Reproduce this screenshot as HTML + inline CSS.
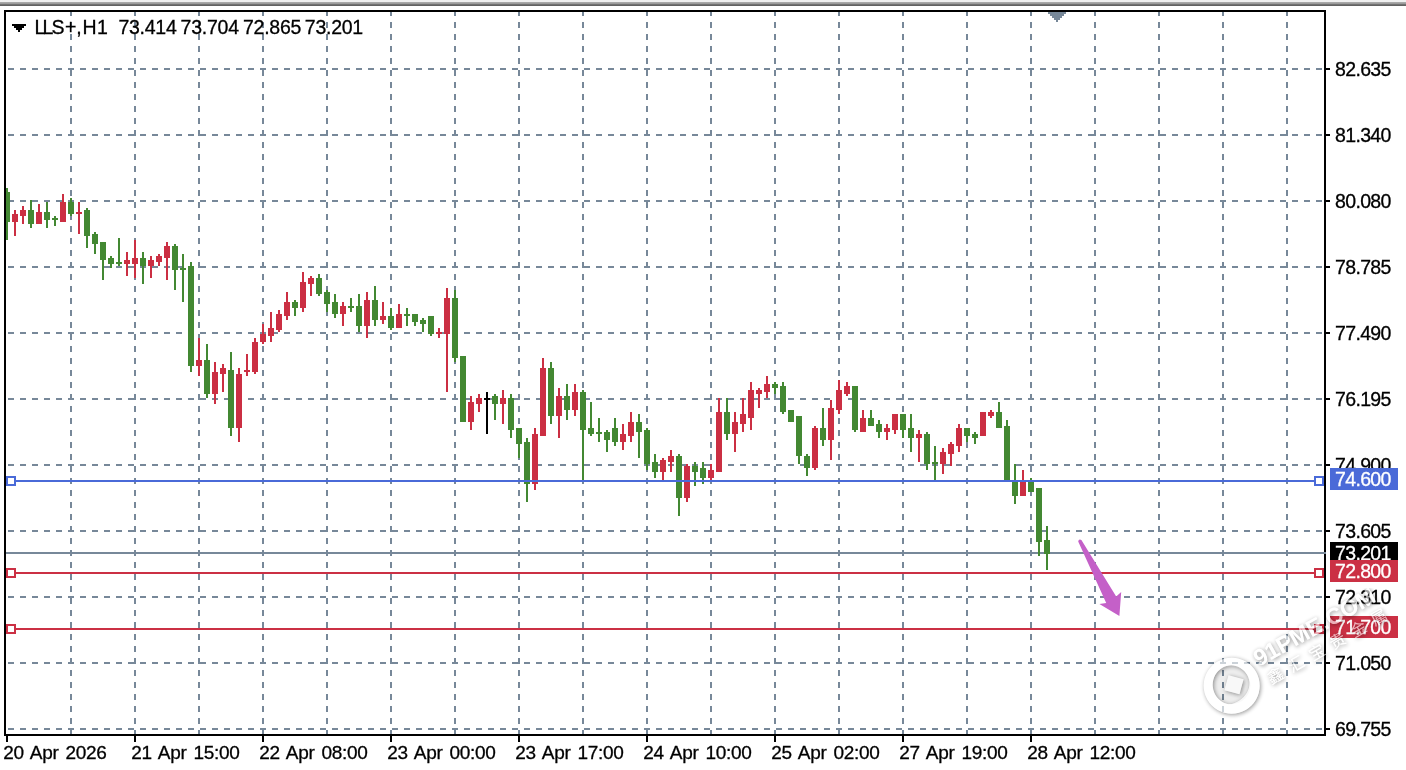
<!DOCTYPE html>
<html lang="en"><head><meta charset="utf-8"><title>LLS+,H1</title>
<style>
html,body{margin:0;padding:0;background:#fff;}
body{width:1406px;height:770px;position:relative;overflow:hidden;font-family:"Liberation Sans","Noto Sans CJK SC",sans-serif;color:#000;}
.t{position:absolute;white-space:nowrap;font-size:19.5px;line-height:20px;height:20px;-webkit-text-stroke:0.3px currentColor;}
.p{left:1335px;letter-spacing:-0.65px;}
.bx{position:absolute;left:1330px;width:68px;height:22px;color:#fff;font-size:19.5px;line-height:20px;letter-spacing:-0.65px;white-space:nowrap;-webkit-text-stroke:0.3px currentColor;}
.bx span{position:absolute;left:5px;top:1px;}
.d{top:743.3px;font-size:19px;letter-spacing:-0.3px;word-spacing:2px;}
.h{top:17px;letter-spacing:-0.25px;}
#wm{position:absolute;left:1196px;top:588px;width:210px;height:140px;pointer-events:none;}
</style></head><body>
<svg width="1406" height="770" viewBox="0 0 1406 770" shape-rendering="crispEdges" style="position:absolute;left:0;top:0">
<rect x="0" y="0" width="1406" height="2" fill="#f0f0f0"/>
<rect x="0" y="2" width="1406" height="1" fill="#a8a8a8"/>
<rect x="0" y="3" width="1406" height="1" fill="#9c9c9c"/>
<rect x="0" y="4" width="1406" height="1" fill="#727272"/>
<rect x="0" y="5" width="1406" height="1" fill="#626262"/>
<g stroke="#778899" stroke-width="2" fill="none">
<line x1="8" y1="69" x2="1324" y2="69" stroke-dasharray="6 6"/>
<line x1="8" y1="135" x2="1324" y2="135" stroke-dasharray="6 6"/>
<line x1="8" y1="201" x2="1324" y2="201" stroke-dasharray="6 6"/>
<line x1="8" y1="267" x2="1324" y2="267" stroke-dasharray="6 6"/>
<line x1="8" y1="333" x2="1324" y2="333" stroke-dasharray="6 6"/>
<line x1="8" y1="399" x2="1324" y2="399" stroke-dasharray="6 6"/>
<line x1="8" y1="465" x2="1324" y2="465" stroke-dasharray="6 6"/>
<line x1="8" y1="531" x2="1324" y2="531" stroke-dasharray="6 6"/>
<line x1="8" y1="597" x2="1324" y2="597" stroke-dasharray="6 6"/>
<line x1="8" y1="663" x2="1324" y2="663" stroke-dasharray="6 6"/>
<line x1="8" y1="729" x2="1324" y2="729" stroke-dasharray="6 6"/>
<line x1="71" y1="10" x2="71" y2="736" stroke-dasharray="6 6"/>
<line x1="135" y1="10" x2="135" y2="736" stroke-dasharray="6 6"/>
<line x1="199" y1="10" x2="199" y2="736" stroke-dasharray="6 6"/>
<line x1="263" y1="10" x2="263" y2="736" stroke-dasharray="6 6"/>
<line x1="327" y1="10" x2="327" y2="736" stroke-dasharray="6 6"/>
<line x1="391" y1="10" x2="391" y2="736" stroke-dasharray="6 6"/>
<line x1="455" y1="10" x2="455" y2="736" stroke-dasharray="6 6"/>
<line x1="519" y1="10" x2="519" y2="736" stroke-dasharray="6 6"/>
<line x1="583" y1="10" x2="583" y2="736" stroke-dasharray="6 6"/>
<line x1="647" y1="10" x2="647" y2="736" stroke-dasharray="6 6"/>
<line x1="711" y1="10" x2="711" y2="736" stroke-dasharray="6 6"/>
<line x1="775" y1="10" x2="775" y2="736" stroke-dasharray="6 6"/>
<line x1="839" y1="10" x2="839" y2="736" stroke-dasharray="6 6"/>
<line x1="903" y1="10" x2="903" y2="736" stroke-dasharray="6 6"/>
<line x1="967" y1="10" x2="967" y2="736" stroke-dasharray="6 6"/>
<line x1="1031" y1="10" x2="1031" y2="736" stroke-dasharray="6 6"/>
<line x1="1095" y1="10" x2="1095" y2="736" stroke-dasharray="6 6"/>
<line x1="1159" y1="10" x2="1159" y2="736" stroke-dasharray="6 6"/>
<line x1="1223" y1="10" x2="1223" y2="736" stroke-dasharray="6 6"/>
<line x1="1287" y1="10" x2="1287" y2="736" stroke-dasharray="6 6"/>
</g>
<path d="M1048 12h18v2h-2v2h-2v2h-2v2h-2v2h-2v-2h-2v-2h-2v-2h-2v-2h-2z" fill="#778899"/>
<rect x="6" y="552" width="1320" height="2" fill="#778899"/>
<rect x="6" y="188" width="2" height="52" fill="#438832"/>
<rect x="4" y="192" width="6" height="30" fill="#438832"/>
<rect x="14" y="210" width="2" height="26" fill="#cb2f43"/>
<rect x="12" y="214" width="6" height="8" fill="#cb2f43"/>
<rect x="22" y="206" width="2" height="18" fill="#cb2f43"/>
<rect x="20" y="210" width="6" height="6" fill="#cb2f43"/>
<rect x="30" y="200" width="2" height="28" fill="#438832"/>
<rect x="28" y="210" width="6" height="14" fill="#438832"/>
<rect x="38" y="204" width="2" height="20" fill="#cb2f43"/>
<rect x="36" y="212" width="6" height="12" fill="#cb2f43"/>
<rect x="46" y="202" width="2" height="26" fill="#438832"/>
<rect x="44" y="212" width="6" height="8" fill="#438832"/>
<rect x="54" y="216" width="2" height="10" fill="#438832"/>
<rect x="52" y="218" width="6" height="2" fill="#438832"/>
<rect x="62" y="194" width="2" height="28" fill="#cb2f43"/>
<rect x="60" y="202" width="6" height="20" fill="#cb2f43"/>
<rect x="70" y="198" width="2" height="18" fill="#438832"/>
<rect x="68" y="202" width="6" height="12" fill="#438832"/>
<rect x="78" y="202" width="2" height="32" fill="#cb2f43"/>
<rect x="76" y="212" width="6" height="2" fill="#cb2f43"/>
<rect x="86" y="208" width="2" height="40" fill="#438832"/>
<rect x="84" y="210" width="6" height="26" fill="#438832"/>
<rect x="94" y="232" width="2" height="22" fill="#438832"/>
<rect x="92" y="234" width="6" height="10" fill="#438832"/>
<rect x="102" y="242" width="2" height="38" fill="#438832"/>
<rect x="100" y="242" width="6" height="18" fill="#438832"/>
<rect x="110" y="256" width="2" height="12" fill="#438832"/>
<rect x="108" y="258" width="6" height="6" fill="#438832"/>
<rect x="118" y="238" width="2" height="28" fill="#438832"/>
<rect x="116" y="262" width="6" height="2" fill="#438832"/>
<rect x="126" y="252" width="2" height="24" fill="#cb2f43"/>
<rect x="124" y="260" width="6" height="4" fill="#cb2f43"/>
<rect x="134" y="240" width="2" height="38" fill="#cb2f43"/>
<rect x="132" y="258" width="6" height="6" fill="#cb2f43"/>
<rect x="142" y="252" width="2" height="32" fill="#438832"/>
<rect x="140" y="258" width="6" height="8" fill="#438832"/>
<rect x="150" y="256" width="2" height="22" fill="#cb2f43"/>
<rect x="148" y="260" width="6" height="6" fill="#cb2f43"/>
<rect x="158" y="254" width="2" height="12" fill="#cb2f43"/>
<rect x="156" y="256" width="6" height="6" fill="#cb2f43"/>
<rect x="166" y="242" width="2" height="38" fill="#cb2f43"/>
<rect x="164" y="246" width="6" height="12" fill="#cb2f43"/>
<rect x="174" y="244" width="2" height="46" fill="#438832"/>
<rect x="172" y="246" width="6" height="24" fill="#438832"/>
<rect x="182" y="254" width="2" height="48" fill="#438832"/>
<rect x="180" y="268" width="6" height="2" fill="#438832"/>
<rect x="190" y="262" width="2" height="110" fill="#438832"/>
<rect x="188" y="266" width="6" height="100" fill="#438832"/>
<rect x="198" y="338" width="2" height="38" fill="#cb2f43"/>
<rect x="196" y="360" width="6" height="6" fill="#cb2f43"/>
<rect x="206" y="344" width="2" height="54" fill="#438832"/>
<rect x="204" y="360" width="6" height="34" fill="#438832"/>
<rect x="214" y="362" width="2" height="42" fill="#cb2f43"/>
<rect x="212" y="372" width="6" height="22" fill="#cb2f43"/>
<rect x="222" y="364" width="2" height="28" fill="#cb2f43"/>
<rect x="220" y="368" width="6" height="6" fill="#cb2f43"/>
<rect x="230" y="352" width="2" height="84" fill="#438832"/>
<rect x="228" y="370" width="6" height="58" fill="#438832"/>
<rect x="238" y="368" width="2" height="74" fill="#cb2f43"/>
<rect x="236" y="374" width="6" height="54" fill="#cb2f43"/>
<rect x="246" y="354" width="2" height="22" fill="#cb2f43"/>
<rect x="244" y="370" width="6" height="2" fill="#cb2f43"/>
<rect x="254" y="338" width="2" height="36" fill="#cb2f43"/>
<rect x="252" y="342" width="6" height="30" fill="#cb2f43"/>
<rect x="262" y="324" width="2" height="20" fill="#cb2f43"/>
<rect x="260" y="334" width="6" height="8" fill="#cb2f43"/>
<rect x="270" y="312" width="2" height="30" fill="#cb2f43"/>
<rect x="268" y="328" width="6" height="8" fill="#cb2f43"/>
<rect x="278" y="310" width="2" height="22" fill="#cb2f43"/>
<rect x="276" y="314" width="6" height="16" fill="#cb2f43"/>
<rect x="286" y="292" width="2" height="28" fill="#cb2f43"/>
<rect x="284" y="302" width="6" height="14" fill="#cb2f43"/>
<rect x="294" y="300" width="2" height="16" fill="#438832"/>
<rect x="292" y="302" width="6" height="6" fill="#438832"/>
<rect x="302" y="272" width="2" height="40" fill="#cb2f43"/>
<rect x="300" y="282" width="6" height="26" fill="#cb2f43"/>
<rect x="310" y="276" width="2" height="20" fill="#cb2f43"/>
<rect x="308" y="278" width="6" height="6" fill="#cb2f43"/>
<rect x="318" y="274" width="2" height="22" fill="#438832"/>
<rect x="316" y="278" width="6" height="16" fill="#438832"/>
<rect x="326" y="290" width="2" height="22" fill="#438832"/>
<rect x="324" y="292" width="6" height="12" fill="#438832"/>
<rect x="334" y="294" width="2" height="24" fill="#438832"/>
<rect x="332" y="302" width="6" height="12" fill="#438832"/>
<rect x="342" y="302" width="2" height="24" fill="#cb2f43"/>
<rect x="340" y="306" width="6" height="8" fill="#cb2f43"/>
<rect x="350" y="298" width="2" height="14" fill="#438832"/>
<rect x="348" y="306" width="6" height="2" fill="#438832"/>
<rect x="358" y="294" width="2" height="38" fill="#438832"/>
<rect x="356" y="306" width="6" height="20" fill="#438832"/>
<rect x="366" y="292" width="2" height="46" fill="#cb2f43"/>
<rect x="364" y="300" width="6" height="26" fill="#cb2f43"/>
<rect x="374" y="286" width="2" height="40" fill="#438832"/>
<rect x="372" y="300" width="6" height="20" fill="#438832"/>
<rect x="382" y="302" width="2" height="22" fill="#cb2f43"/>
<rect x="380" y="316" width="6" height="4" fill="#cb2f43"/>
<rect x="390" y="308" width="2" height="22" fill="#438832"/>
<rect x="388" y="316" width="6" height="12" fill="#438832"/>
<rect x="398" y="304" width="2" height="24" fill="#cb2f43"/>
<rect x="396" y="314" width="6" height="14" fill="#cb2f43"/>
<rect x="406" y="308" width="2" height="18" fill="#438832"/>
<rect x="404" y="314" width="6" height="2" fill="#438832"/>
<rect x="414" y="314" width="2" height="12" fill="#438832"/>
<rect x="412" y="314" width="6" height="8" fill="#438832"/>
<rect x="422" y="318" width="2" height="14" fill="#438832"/>
<rect x="420" y="320" width="6" height="4" fill="#438832"/>
<rect x="430" y="316" width="2" height="20" fill="#438832"/>
<rect x="428" y="316" width="6" height="18" fill="#438832"/>
<rect x="438" y="328" width="2" height="10" fill="#cb2f43"/>
<rect x="436" y="332" width="6" height="2" fill="#cb2f43"/>
<rect x="446" y="288" width="2" height="104" fill="#cb2f43"/>
<rect x="444" y="298" width="6" height="36" fill="#cb2f43"/>
<rect x="454" y="290" width="2" height="72" fill="#438832"/>
<rect x="452" y="298" width="6" height="60" fill="#438832"/>
<rect x="462" y="356" width="2" height="66" fill="#438832"/>
<rect x="460" y="356" width="6" height="66" fill="#438832"/>
<rect x="470" y="396" width="2" height="34" fill="#cb2f43"/>
<rect x="468" y="402" width="6" height="20" fill="#cb2f43"/>
<rect x="478" y="394" width="2" height="18" fill="#cb2f43"/>
<rect x="476" y="398" width="6" height="6" fill="#cb2f43"/>
<rect x="486" y="392" width="2" height="42" fill="#000000"/>
<rect x="484" y="398" width="6" height="2" fill="#000000"/>
<rect x="494" y="394" width="2" height="26" fill="#438832"/>
<rect x="492" y="396" width="6" height="8" fill="#438832"/>
<rect x="502" y="390" width="2" height="34" fill="#cb2f43"/>
<rect x="500" y="398" width="6" height="6" fill="#cb2f43"/>
<rect x="510" y="394" width="2" height="44" fill="#438832"/>
<rect x="508" y="398" width="6" height="32" fill="#438832"/>
<rect x="518" y="428" width="2" height="30" fill="#438832"/>
<rect x="516" y="428" width="6" height="16" fill="#438832"/>
<rect x="526" y="438" width="2" height="64" fill="#438832"/>
<rect x="524" y="442" width="6" height="42" fill="#438832"/>
<rect x="534" y="428" width="2" height="62" fill="#cb2f43"/>
<rect x="532" y="434" width="6" height="50" fill="#cb2f43"/>
<rect x="542" y="358" width="2" height="78" fill="#cb2f43"/>
<rect x="540" y="368" width="6" height="68" fill="#cb2f43"/>
<rect x="550" y="362" width="2" height="62" fill="#438832"/>
<rect x="548" y="368" width="6" height="48" fill="#438832"/>
<rect x="558" y="388" width="2" height="50" fill="#cb2f43"/>
<rect x="556" y="396" width="6" height="20" fill="#cb2f43"/>
<rect x="566" y="384" width="2" height="36" fill="#438832"/>
<rect x="564" y="396" width="6" height="14" fill="#438832"/>
<rect x="574" y="384" width="2" height="32" fill="#cb2f43"/>
<rect x="572" y="392" width="6" height="18" fill="#cb2f43"/>
<rect x="582" y="390" width="2" height="92" fill="#438832"/>
<rect x="580" y="392" width="6" height="38" fill="#438832"/>
<rect x="590" y="402" width="2" height="34" fill="#438832"/>
<rect x="588" y="428" width="6" height="6" fill="#438832"/>
<rect x="598" y="418" width="2" height="24" fill="#438832"/>
<rect x="596" y="432" width="6" height="2" fill="#438832"/>
<rect x="606" y="430" width="2" height="22" fill="#438832"/>
<rect x="604" y="432" width="6" height="8" fill="#438832"/>
<rect x="614" y="418" width="2" height="28" fill="#438832"/>
<rect x="612" y="428" width="6" height="14" fill="#438832"/>
<rect x="622" y="424" width="2" height="26" fill="#cb2f43"/>
<rect x="620" y="434" width="6" height="8" fill="#cb2f43"/>
<rect x="630" y="412" width="2" height="30" fill="#cb2f43"/>
<rect x="628" y="422" width="6" height="14" fill="#cb2f43"/>
<rect x="638" y="414" width="2" height="44" fill="#438832"/>
<rect x="636" y="422" width="6" height="10" fill="#438832"/>
<rect x="646" y="428" width="2" height="42" fill="#438832"/>
<rect x="644" y="430" width="6" height="34" fill="#438832"/>
<rect x="654" y="454" width="2" height="24" fill="#438832"/>
<rect x="652" y="462" width="6" height="10" fill="#438832"/>
<rect x="662" y="458" width="2" height="24" fill="#cb2f43"/>
<rect x="660" y="460" width="6" height="12" fill="#cb2f43"/>
<rect x="670" y="450" width="2" height="22" fill="#cb2f43"/>
<rect x="668" y="456" width="6" height="6" fill="#cb2f43"/>
<rect x="678" y="454" width="2" height="62" fill="#438832"/>
<rect x="676" y="456" width="6" height="42" fill="#438832"/>
<rect x="686" y="464" width="2" height="38" fill="#cb2f43"/>
<rect x="684" y="466" width="6" height="32" fill="#cb2f43"/>
<rect x="694" y="462" width="2" height="24" fill="#438832"/>
<rect x="692" y="466" width="6" height="6" fill="#438832"/>
<rect x="702" y="462" width="2" height="22" fill="#438832"/>
<rect x="700" y="468" width="6" height="10" fill="#438832"/>
<rect x="710" y="464" width="2" height="18" fill="#cb2f43"/>
<rect x="708" y="470" width="6" height="8" fill="#cb2f43"/>
<rect x="718" y="398" width="2" height="74" fill="#cb2f43"/>
<rect x="716" y="412" width="6" height="60" fill="#cb2f43"/>
<rect x="726" y="398" width="2" height="42" fill="#438832"/>
<rect x="724" y="412" width="6" height="22" fill="#438832"/>
<rect x="734" y="412" width="2" height="40" fill="#cb2f43"/>
<rect x="732" y="422" width="6" height="12" fill="#cb2f43"/>
<rect x="742" y="398" width="2" height="34" fill="#cb2f43"/>
<rect x="740" y="414" width="6" height="10" fill="#cb2f43"/>
<rect x="750" y="382" width="2" height="48" fill="#cb2f43"/>
<rect x="748" y="390" width="6" height="28" fill="#cb2f43"/>
<rect x="758" y="388" width="2" height="20" fill="#cb2f43"/>
<rect x="756" y="390" width="6" height="4" fill="#cb2f43"/>
<rect x="766" y="376" width="2" height="22" fill="#cb2f43"/>
<rect x="764" y="384" width="6" height="8" fill="#cb2f43"/>
<rect x="774" y="382" width="2" height="12" fill="#438832"/>
<rect x="772" y="384" width="6" height="4" fill="#438832"/>
<rect x="782" y="382" width="2" height="32" fill="#438832"/>
<rect x="780" y="386" width="6" height="26" fill="#438832"/>
<rect x="790" y="410" width="2" height="12" fill="#438832"/>
<rect x="788" y="410" width="6" height="12" fill="#438832"/>
<rect x="798" y="416" width="2" height="48" fill="#438832"/>
<rect x="796" y="416" width="6" height="40" fill="#438832"/>
<rect x="806" y="454" width="2" height="22" fill="#438832"/>
<rect x="804" y="456" width="6" height="12" fill="#438832"/>
<rect x="814" y="426" width="2" height="44" fill="#cb2f43"/>
<rect x="812" y="428" width="6" height="40" fill="#cb2f43"/>
<rect x="822" y="408" width="2" height="38" fill="#438832"/>
<rect x="820" y="428" width="6" height="12" fill="#438832"/>
<rect x="830" y="400" width="2" height="60" fill="#cb2f43"/>
<rect x="828" y="408" width="6" height="32" fill="#cb2f43"/>
<rect x="838" y="380" width="2" height="34" fill="#cb2f43"/>
<rect x="836" y="390" width="6" height="20" fill="#cb2f43"/>
<rect x="846" y="382" width="2" height="14" fill="#cb2f43"/>
<rect x="844" y="386" width="6" height="8" fill="#cb2f43"/>
<rect x="854" y="386" width="2" height="46" fill="#438832"/>
<rect x="852" y="386" width="6" height="44" fill="#438832"/>
<rect x="862" y="410" width="2" height="22" fill="#cb2f43"/>
<rect x="860" y="418" width="6" height="14" fill="#cb2f43"/>
<rect x="870" y="410" width="2" height="16" fill="#438832"/>
<rect x="868" y="418" width="6" height="8" fill="#438832"/>
<rect x="878" y="420" width="2" height="18" fill="#438832"/>
<rect x="876" y="424" width="6" height="8" fill="#438832"/>
<rect x="886" y="424" width="2" height="16" fill="#cb2f43"/>
<rect x="884" y="428" width="6" height="4" fill="#cb2f43"/>
<rect x="894" y="414" width="2" height="20" fill="#cb2f43"/>
<rect x="892" y="414" width="6" height="16" fill="#cb2f43"/>
<rect x="902" y="414" width="2" height="24" fill="#438832"/>
<rect x="900" y="414" width="6" height="16" fill="#438832"/>
<rect x="910" y="414" width="2" height="38" fill="#438832"/>
<rect x="908" y="428" width="6" height="10" fill="#438832"/>
<rect x="918" y="430" width="2" height="32" fill="#cb2f43"/>
<rect x="916" y="434" width="6" height="4" fill="#cb2f43"/>
<rect x="926" y="432" width="2" height="38" fill="#438832"/>
<rect x="924" y="434" width="6" height="30" fill="#438832"/>
<rect x="934" y="446" width="2" height="36" fill="#438832"/>
<rect x="932" y="462" width="6" height="2" fill="#438832"/>
<rect x="942" y="448" width="2" height="26" fill="#cb2f43"/>
<rect x="940" y="452" width="6" height="12" fill="#cb2f43"/>
<rect x="950" y="442" width="2" height="24" fill="#cb2f43"/>
<rect x="948" y="444" width="6" height="10" fill="#cb2f43"/>
<rect x="958" y="424" width="2" height="28" fill="#cb2f43"/>
<rect x="956" y="428" width="6" height="18" fill="#cb2f43"/>
<rect x="966" y="428" width="2" height="14" fill="#438832"/>
<rect x="964" y="428" width="6" height="8" fill="#438832"/>
<rect x="974" y="432" width="2" height="12" fill="#438832"/>
<rect x="972" y="434" width="6" height="4" fill="#438832"/>
<rect x="982" y="412" width="2" height="24" fill="#cb2f43"/>
<rect x="980" y="412" width="6" height="24" fill="#cb2f43"/>
<rect x="990" y="410" width="2" height="8" fill="#cb2f43"/>
<rect x="988" y="412" width="6" height="4" fill="#cb2f43"/>
<rect x="998" y="402" width="2" height="26" fill="#438832"/>
<rect x="996" y="412" width="6" height="16" fill="#438832"/>
<rect x="1006" y="420" width="2" height="62" fill="#438832"/>
<rect x="1004" y="426" width="6" height="56" fill="#438832"/>
<rect x="1014" y="464" width="2" height="40" fill="#438832"/>
<rect x="1012" y="480" width="6" height="16" fill="#438832"/>
<rect x="1022" y="470" width="2" height="26" fill="#cb2f43"/>
<rect x="1020" y="480" width="6" height="16" fill="#cb2f43"/>
<rect x="1030" y="478" width="2" height="14" fill="#438832"/>
<rect x="1028" y="480" width="6" height="12" fill="#438832"/>
<rect x="1038" y="488" width="2" height="68" fill="#438832"/>
<rect x="1036" y="488" width="6" height="54" fill="#438832"/>
<rect x="1046" y="526" width="2" height="44" fill="#438832"/>
<rect x="1044" y="540" width="6" height="14" fill="#438832"/>
<rect x="6" y="480" width="1318" height="2" fill="#4a6ad8"/>
<rect x="7" y="477" width="8" height="8" fill="#ffffff" stroke="#4a6ad8" stroke-width="2"/>
<rect x="1315" y="477" width="8" height="8" fill="#ffffff" stroke="#4a6ad8" stroke-width="2"/>
<rect x="6" y="572" width="1318" height="2" fill="#cb3044"/>
<rect x="7" y="569" width="8" height="8" fill="#ffffff" stroke="#cb3044" stroke-width="2"/>
<rect x="1315" y="569" width="8" height="8" fill="#ffffff" stroke="#cb3044" stroke-width="2"/>
<rect x="6" y="628" width="1318" height="2" fill="#cb3044"/>
<rect x="7" y="625" width="8" height="8" fill="#ffffff" stroke="#cb3044" stroke-width="2"/>
<rect x="1315" y="625" width="8" height="8" fill="#ffffff" stroke="#cb3044" stroke-width="2"/>
<path shape-rendering="geometricPrecision" d="M1078.2 541.6 Q1078.6 538.6 1081.4 539.9 L1116.2 596.4 L1121.2 592 L1119.4 616 L1099.4 604 L1106.2 603 Z" fill="#c460c8"/>
<rect x="5" y="11" width="1320" height="724" fill="none" stroke="#000" stroke-width="2"/>
<rect x="1324" y="552" width="2" height="2" fill="#778899"/>
<rect x="1326" y="68" width="4" height="2" fill="#000"/>
<rect x="1326" y="134" width="4" height="2" fill="#000"/>
<rect x="1326" y="200" width="4" height="2" fill="#000"/>
<rect x="1326" y="266" width="4" height="2" fill="#000"/>
<rect x="1326" y="332" width="4" height="2" fill="#000"/>
<rect x="1326" y="398" width="4" height="2" fill="#000"/>
<rect x="1326" y="464" width="4" height="2" fill="#000"/>
<rect x="1326" y="530" width="4" height="2" fill="#000"/>
<rect x="1326" y="596" width="4" height="2" fill="#000"/>
<rect x="1326" y="662" width="4" height="2" fill="#000"/>
<rect x="1326" y="728" width="4" height="2" fill="#000"/>
<rect x="6" y="736" width="2" height="6" fill="#000"/>
<rect x="134" y="736" width="2" height="6" fill="#000"/>
<rect x="262" y="736" width="2" height="6" fill="#000"/>
<rect x="390" y="736" width="2" height="6" fill="#000"/>
<rect x="518" y="736" width="2" height="6" fill="#000"/>
<rect x="646" y="736" width="2" height="6" fill="#000"/>
<rect x="774" y="736" width="2" height="6" fill="#000"/>
<rect x="902" y="736" width="2" height="6" fill="#000"/>
<rect x="1030" y="736" width="2" height="6" fill="#000"/>
<path d="M12 24h14v2h-2v2h-2v2h-2v2h-2v-2h-2v-2h-2v-2h-2z" fill="#000"/>
</svg>
<svg width="120" height="30" style="position:absolute;left:0;top:10px;overflow:visible"><text y="24" x="34.6 42.6 51.6 64.9 76.3 82.5 97" font-family="Liberation Sans, sans-serif" font-size="19.5" fill="#000" stroke="#000" stroke-width="0.3">LLS+,H1</text></svg>
<div class="t h" style="left:118.4px">73.414</div>
<div class="t h" style="left:180.6px">73.704</div>
<div class="t h" style="left:243px">72.865</div>
<div class="t h" style="left:304.8px">73.201</div>
<div class="t p" style="top:59px">82.635</div>
<div class="t p" style="top:125px">81.340</div>
<div class="t p" style="top:191px">80.080</div>
<div class="t p" style="top:257px">78.785</div>
<div class="t p" style="top:323px">77.490</div>
<div class="t p" style="top:389px">76.195</div>
<div class="t p" style="top:455px">74.900</div>
<div class="t p" style="top:521px">73.605</div>
<div class="t p" style="top:587px">72.310</div>
<div class="t p" style="top:653px">71.050</div>
<div class="t p" style="top:719px">69.755</div>
<div class="bx" style="top:542px;background:#000"><span>73.201</span></div>
<div class="bx" style="top:468px;background:#4a6ad8"><span>74.600</span></div>
<div class="bx" style="top:560px;background:#cb3044"><span>72.800</span></div>
<div class="bx" style="top:616px;background:#cb3044"><span>71.700</span></div>
<div class="t d" style="left:3.3px">20 Apr 2026</div>
<div class="t d" style="left:131.3px">21 Apr 15:00</div>
<div class="t d" style="left:259.3px">22 Apr 08:00</div>
<div class="t d" style="left:387.3px">23 Apr 00:00</div>
<div class="t d" style="left:515.3px">23 Apr 17:00</div>
<div class="t d" style="left:643.3px">24 Apr 10:00</div>
<div class="t d" style="left:771.3px">25 Apr 02:00</div>
<div class="t d" style="left:899.3px">27 Apr 19:00</div>
<div class="t d" style="left:1027.3px">28 Apr 12:00</div>
<svg id="wm" viewBox="0 0 210 140">
<defs><filter id="sh" x="-20%" y="-20%" width="140%" height="140%" color-interpolation-filters="sRGB">
<feGaussianBlur in="SourceAlpha" stdDeviation="1.9" result="b"/><feOffset in="b" dx="0.8" dy="1.3" result="o"/>
<feComposite in="o" in2="SourceAlpha" operator="out" result="ko"/><feComponentTransfer in="ko" result="s"><feFuncA type="linear" slope="0.42"/></feComponentTransfer>
<feComponentTransfer in="SourceGraphic" result="w"><feFuncA type="linear" slope="0.62"/></feComponentTransfer>
<feMerge><feMergeNode in="s"/><feMergeNode in="w"/></feMerge></filter></defs>
<circle cx="35.4" cy="97.3" r="19" fill="#000" opacity=".07"/>
<g filter="url(#sh)" fill="#fff">
<path fill-rule="evenodd" d="M35.7 69.8a28 28 0 1 0 .01 0zM35.2 77.3a18.5 19.5 0 1 1 -.01 0z"/>
<path d="M52 84c6 14-2 30-20 33 16 2 30-14 20-33z"/>
<rect x="30.2" y="89" width="15.6" height="15.6" transform="rotate(15 38 96.8)"/>
<g transform="translate(63 78.7) rotate(-29)">
<text x="0" y="0" font-family="Liberation Sans, sans-serif" font-weight="bold" font-size="23">91PME.COM</text>
</g>
<g transform="translate(75.3 96.8) rotate(-29.5)">
<text x="0" y="0" font-family="Noto Sans CJK SC, sans-serif" font-size="16" letter-spacing="7.8">鑫汇宝贵金属</text>
</g></g></svg>
</body></html>
